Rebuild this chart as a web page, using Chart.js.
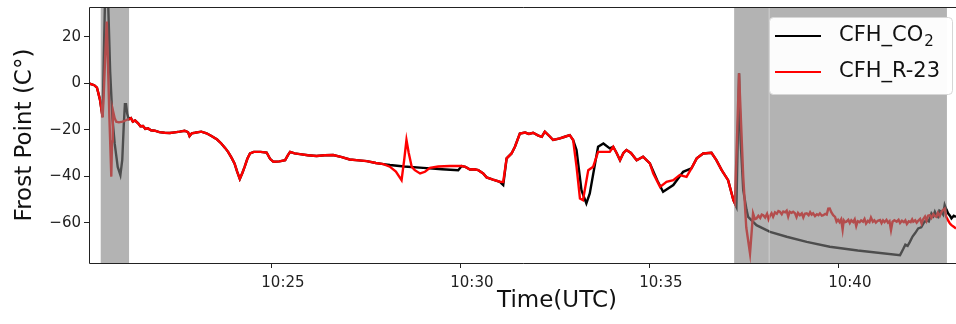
<!DOCTYPE html>
<html>
<head>
<meta charset="utf-8">
<script src="https://cdn.jsdelivr.net/npm/chart.js@4/dist/chart.umd.min.js"></script>
<style>
  body { margin: 0; background: #fff; }
  #frost { display: block; }
</style>
</head>
<body>
<canvas id="frost" width="956" height="324"></canvas>
<script>
// time in minutes after 10:00 UTC, frost point in °C
const co2Time = [
  20.16, 20.30, 20.37, 20.45, 20.52, 20.55, 20.58, 20.63, 20.67, 20.72, 20.78, 20.84, 20.92, 20.99,
  21.04, 21.08, 21.11, 21.14, 21.17, 21.21,
  21.27, 21.32, 21.38, 21.46, 21.52, 21.59, 21.65, 21.72, 21.80, 21.90, 22.02, 22.16, 22.30, 22.43,
  22.56, 22.69, 22.78, 22.82, 22.88, 22.96, 23.13, 23.27, 23.40, 23.55, 23.66, 23.76, 23.84, 23.93,
  24.01, 24.08, 24.15, 24.22, 24.28, 24.35, 24.42, 24.52, 24.70, 24.86, 24.95, 25.04, 25.20, 25.35,
  25.42, 25.48, 25.60, 25.74, 25.95, 26.18, 26.40, 26.62, 26.85, 27.06, 27.30, 27.51, 27.75, 27.95,
  28.12, 28.50, 29.00, 29.50, 29.93, 30.02,
  30.12, 30.24, 30.35, 30.46, 30.59, 30.68, 30.85, 31.03, 31.12, 31.21, 31.34, 31.43, 31.56, 31.70,
  31.80, 31.91, 32.05, 32.14, 32.22, 32.36, 32.44, 32.62, 32.75, 32.88, 32.97,
  33.06, 33.19, 33.32, 33.41, 33.55, 33.63, 33.77, 33.94,
  34.03, 34.12, 34.21, 34.30, 34.38, 34.50, 34.65, 34.82, 35.00,
  35.20, 35.35, 35.62, 35.88,
  36.10, 36.24, 36.41, 36.63, 36.76, 36.90, 37.07, 37.21,
  37.29, 37.36, 37.40, 37.47, 37.56, 37.60, 37.82, 38.18, 38.62, 39.15, 39.76, 40.50, 41.62,
  41.70, 41.76, 41.82, 41.88, 41.95, 42.02, 42.10, 42.18, 42.25, 42.32, 42.38, 42.45, 42.50, 42.54,
  42.58, 42.62, 42.66, 42.71, 42.76, 42.80, 42.85, 42.89, 42.94, 42.98, 43.04, 43.10
];
const co2Frost = [
  0, -0.8, -1.8, -7, -14.5, 10, 33, 45, 33, 5, -15, -26, -36, -39.5,
  -33, -18, -9, -9, -13, -15.5,
  -15.0, -16.5, -16.0, -17.2, -18.5, -18.4, -19.6, -19.4, -20.2, -20.4, -21.0, -21.3, -21.4, -21.1,
  -20.8, -20.4, -21.0, -22.7, -21.5, -21.3, -20.8, -21.5, -22.7, -24.2, -25.9, -27.8, -29.5, -32,
  -34.5, -38, -41.2, -38.5, -35.9, -32.5, -30.2, -29.5, -29.5, -29.8, -32.5, -33.8, -33.6, -33.1,
  -31, -29.5, -30.2, -30.5, -31.0, -31.3, -31.0, -30.9, -31.8, -32.8, -33.2, -33.5, -34.3, -34.8,
  -35.2, -35.8, -36.4, -37.0, -37.4, -35.6,
  -36, -37.1, -37.0, -37.4, -38.8, -40.5, -41.5, -42.4, -43.8, -32.3, -30.2, -27.3, -21.6, -21.2,
  -21.8, -21.3, -22.5, -23, -20.8, -23, -24.4, -23.7, -23, -22.3, -24.4,
  -28.7, -46, -51.7, -47.4, -34.5, -27.3, -25.9, -28,
  -27.3, -30, -33.1, -30, -28.7, -30, -33.1, -31.6, -34.5,
  -42, -46.7, -43.8, -38.1,
  -36.6, -32.3, -30.2, -29.9, -33.1, -37.4, -41.7, -50.3,
  -53.2, 4.3, -24.4, -46, -54.6, -57.5, -61.1, -64, -66.1, -68.3, -70.4, -72, -74,
  -71.5, -69.5, -70.0, -68.3, -66.0, -64.5, -62.5, -62.0, -60.0, -58.9, -59.5, -56.0, -57.2, -55.3,
  -56.8, -57.5, -54.8, -55.3, -56.5, -52.4, -54.5, -56, -57.0, -58.2, -57.0, -57.5
];

const r23Time = [
  20.16, 20.30, 20.37, 20.45, 20.52, 20.55, 20.59, 20.63, 20.66, 20.70, 20.75, 20.77, 20.79, 20.84,
  20.88, 20.95, 21.05, 21.12, 21.18, 21.22,
  21.27, 21.32, 21.38, 21.46, 21.52, 21.59, 21.65, 21.72, 21.80, 21.90, 22.02, 22.16, 22.30, 22.43,
  22.56, 22.69, 22.78, 22.82, 22.88, 22.96, 23.13, 23.27, 23.40, 23.55, 23.66, 23.76, 23.84, 23.93,
  24.01, 24.08, 24.15, 24.22, 24.28, 24.35, 24.42, 24.52, 24.70, 24.86, 24.95, 25.04, 25.20, 25.35,
  25.42, 25.48, 25.60, 25.74, 25.95, 26.18, 26.40, 26.62, 26.85, 27.06, 27.30, 27.51, 27.75, 27.95,
  28.12, 28.28, 28.43, 28.50, 28.56, 28.62, 28.70, 28.78, 28.92, 29.05, 29.18, 29.40, 29.71, 30.02,
  30.12, 30.24, 30.35, 30.46, 30.59, 30.68, 30.85, 31.03, 31.12, 31.21, 31.34, 31.43, 31.56, 31.70,
  31.80, 31.91, 32.05, 32.14, 32.22, 32.36, 32.44, 32.62, 32.75, 32.88, 32.97,
  33.06, 33.15, 33.23, 33.32, 33.37, 33.50, 33.63, 33.94,
  34.03, 34.12, 34.21, 34.30, 34.38, 34.50, 34.65, 34.82, 35.00,
  35.09, 35.27, 35.44, 35.62, 35.79, 35.97,
  36.10, 36.24, 36.41, 36.63, 36.76, 36.90, 37.07, 37.21,
  37.25, 37.36, 37.47, 37.55, 37.65,
  37.73, 37.78, 37.82, 37.87, 37.92, 37.96, 38.00, 38.05, 38.10, 38.14, 38.18, 38.22, 38.26, 38.31,
  38.36, 38.40, 38.44, 38.49, 38.53, 38.58, 38.62, 38.66, 38.70, 38.75, 38.79, 38.84, 38.88, 38.92,
  38.97, 39.02, 39.06, 39.10, 39.15, 39.20, 39.24, 39.28, 39.32, 39.37, 39.42, 39.46, 39.50, 39.55,
  39.59, 39.64, 39.68, 39.72, 39.76, 39.80, 39.85, 39.90, 39.94, 39.98, 40.02, 40.06, 40.10, 40.13,
  40.17, 40.20, 40.25, 40.29, 40.33, 40.38, 40.42, 40.46, 40.50, 40.55, 40.59, 40.64, 40.68, 40.72,
  40.77, 40.81, 40.85, 40.90, 40.94, 40.98, 41.03, 41.09, 41.13, 41.17, 41.21, 41.26, 41.30, 41.34,
  41.38, 41.42, 41.47, 41.53, 41.58, 41.62, 41.67, 41.72, 41.76, 41.80, 41.85, 41.90, 41.94, 41.97,
  42.02, 42.06, 42.10, 42.15, 42.19, 42.23, 42.28, 42.32, 42.36, 42.41, 42.45, 42.50, 42.54, 42.58,
  42.62, 42.67, 42.71, 42.75, 42.80, 42.84, 42.89, 42.94, 42.98, 43.04, 43.10
];
const r23Frost = [
  0, -0.8, -1.8, -7, -14.7, -5, 12, 26.6, 10, -15, -40.2, -25, -11.5, -15,
  -16.5, -16.8, -16.5, -16, -15.5, -15.5,
  -15.0, -16.5, -16.0, -17.2, -18.5, -18.4, -19.6, -19.4, -20.2, -20.4, -21.0, -21.3, -21.4, -21.1,
  -20.8, -20.4, -21.0, -22.7, -21.5, -21.3, -20.8, -21.5, -22.7, -24.2, -25.9, -27.8, -29.5, -32,
  -34.5, -38, -41.2, -38.5, -35.9, -32.5, -30.2, -29.5, -29.5, -29.8, -32.5, -33.8, -33.6, -33.1,
  -31, -29.5, -30.2, -30.5, -31.0, -31.3, -31.0, -30.9, -31.8, -32.8, -33.2, -33.5, -34.3, -34.8,
  -35.9, -38, -41.7, -33, -24.4, -30, -36, -37.4, -38.8, -38.1, -36.4, -35.8, -35.6, -35.6,
  -36, -37.1, -37.0, -37.4, -38.8, -40.5, -41.5, -42.4, -42.5, -32.3, -30.2, -27.3, -21.6, -21.2,
  -21.8, -21.3, -22.5, -23, -20.8, -23, -24.4, -23.7, -23, -22.3, -24.4,
  -35.9, -49.6, -50.3, -42, -37.4, -35.9, -29.5, -29.5,
  -27.3, -30, -33.1, -30, -28.7, -30, -33.1, -31.6, -34.5,
  -38.8, -44.6, -42.4, -41.7, -39.5, -40.3,
  -36.6, -32.3, -30.2, -29.9, -33.1, -37.4, -41.7, -50.3,
  -51.7, 4.3, -40, -62, -73.3,
  -56, -58.5, -58.2, -57.0, -58.0, -56.5, -56.8, -57.8, -56.2, -58.6, -57.0, -56.0, -57.5, -55.6,
  -56.2, -55.0, -55.3, -56.4, -55.2, -55.6, -54.9, -57.4, -55.3, -55.8, -55.3, -56.0, -57.6, -55.8,
  -56.8, -56.0, -57.8, -56.2, -56.0, -56.8, -55.5, -56.6, -56.0, -57.2, -56.4, -56.8, -56.0, -57.0,
  -56.8, -56.2, -56.5, -54.0, -53.9, -55.5, -56.8, -57.5, -59.6, -58.8, -59.8, -58.6, -63.0, -59.0,
  -59.8, -59.6, -58.8, -60.2, -59.0, -59.8, -58.6, -61.5, -59.4, -59.8, -59.0, -59.6, -58.4, -60.4,
  -59.2, -59.8, -57.8, -59.6, -59.0, -60.0, -59.2, -58.9, -60.2, -59.0, -59.8, -58.8, -60.0, -59.4,
  -63.2, -59.6, -59.0, -59.6, -58.8, -60.2, -59.2, -59.8, -59.0, -60.6, -59.4, -59.8, -58.6, -59.6,
  -59.0, -60.0, -59.2, -58.4, -60.4, -58.6, -57.4, -59.2, -57.0, -56.8, -58.0, -56.4, -57.2, -57.5,
  -55.8, -57.2, -55.6, -54.6, -54.0, -57.5, -59.0, -60.4, -61.1, -61.8, -62.5
];

// shaded periods (minutes after 10:00)
const spanStart = [20.47, 37.23, 38.14];
const spanEnd = [21.22, 38.14, 42.86];

const xTicks = [25, 30, 35, 40];
const yTicks = [-60, -40, -20, 0, 20];
// [text, subscript] for each legend entry
const seriesNames = [["CFH_CO", "2"], ["CFH_R-23", ""]];
const xTitle = "Time(UTC)";
const yTitle = "Frost Point (C°)";

function toPoints(t, v) {
  return t.map((x, i) => ({ x: x, y: v[i] }));
}

const spanPlugin = {
  id: "spans",
  afterDatasetsDraw(chart) {
    const { ctx, chartArea, scales } = chart;
    const xs = scales.x;
    ctx.save();
    ctx.fillStyle = "rgba(128,128,128,0.6)";
    for (let i = 0; i < spanStart.length; i++) {
      const x0 = xs.getPixelForValue(spanStart[i]);
      const x1 = Math.min(xs.getPixelForValue(spanEnd[i]), chartArea.right);
      ctx.fillRect(x0, chartArea.top, x1 - x0, chartArea.bottom - chartArea.top);
    }
    // faint seam between the two adjacent right-hand spans
    const seam = Math.round(xs.getPixelForValue(spanStart[2])) + 0.5;
    ctx.strokeStyle = "rgba(255,255,255,0.25)";
    ctx.lineWidth = 1;
    ctx.beginPath();
    ctx.moveTo(seam, chartArea.top);
    ctx.lineTo(seam, chartArea.bottom);
    ctx.stroke();

    // axes frame (top, left, bottom)
    ctx.strokeStyle = "#222";
    ctx.beginPath();
    ctx.moveTo(chartArea.right + 5, chartArea.top + 0.5);
    ctx.lineTo(chartArea.left + 0.5, chartArea.top + 0.5);
    ctx.lineTo(chartArea.left + 0.5, chartArea.bottom + 0.5);
    ctx.lineTo(chartArea.right + 5, chartArea.bottom + 0.5);
    ctx.stroke();
    ctx.restore();
  },
  afterDraw(chart) {
    const { ctx, chartArea } = chart;
    ctx.save();

    // x title sits under the middle of the full (cropped) axes
    ctx.font = "23px 'DejaVu Sans'";
    ctx.fillStyle = "#111";
    ctx.textAlign = "center";
    ctx.textBaseline = "middle";
    ctx.fillText(xTitle, chartArea.left + 468, chartArea.bottom + 38);

    // legend box in the top right corner of the plot
    const w = 183, h = 77;
    const bx = chartArea.right - 187, by = chartArea.top + 10;
    ctx.beginPath();
    ctx.roundRect(bx + 0.5, by + 0.5, w, h, 4);
    ctx.fillStyle = "rgba(255,255,255,0.96)";
    ctx.fill();
    ctx.strokeStyle = "#d6d6d6";
    ctx.lineWidth = 1;
    ctx.stroke();
    ctx.textAlign = "left";
    chart.data.datasets.forEach((ds, i) => {
      const ly = by + 19 + i * 36;
      ctx.strokeStyle = ds.borderColor;
      ctx.lineWidth = 2;
      ctx.beginPath();
      ctx.moveTo(bx + 6, ly);
      ctx.lineTo(bx + 52, ly);
      ctx.stroke();
      const [main, sub] = seriesNames[i];
      ctx.fillStyle = "#111";
      ctx.font = "21px 'DejaVu Sans'";
      ctx.fillText(main, bx + 70, ly);
      if (sub) {
        const mw = ctx.measureText(main).width;
        ctx.font = "15px 'DejaVu Sans'";
        ctx.fillText(sub, bx + 71 + mw, ly + 6);
      }
    });
    ctx.restore();
  }
};

new Chart(document.getElementById("frost"), {
  type: "line",
  data: {
    datasets: [
      {
        label: seriesNames[0].join(""),
        data: toPoints(co2Time, co2Frost),
        borderColor: "#000000",
        borderWidth: 2.4,
        pointRadius: 0,
        tension: 0,
        order: 2,
      },
      {
        label: seriesNames[1].join(""),
        data: toPoints(r23Time, r23Frost),
        borderColor: "#ff0000",
        borderWidth: 2.4,
        pointRadius: 0,
        tension: 0,
        order: 1,
      },
    ],
  },
  options: {
    responsive: false,
    animation: false,
    events: [],
    layout: { padding: { top: 7, right: 0, bottom: 0, left: 0 } },
    plugins: {
      legend: { display: false },
      tooltip: { enabled: false },
    },
    scales: {
      x: {
        type: "linear",
        min: 20.16,
        max: 43.1,
        afterBuildTicks: (scale) => {
          scale.ticks = xTicks.map((v) => ({ value: v }));
        },
        afterFit: (scale) => {
          scale.height = 61;
          scale.paddingLeft = 0;
          scale.paddingRight = 0;
        },
        grid: { drawOnChartArea: false, tickLength: 5, tickColor: "#222" },
        border: { display: false },
        ticks: {
          padding: 6,
          maxRotation: 0,
          labelOffset: 11,
          color: "#222",
          font: { family: "DejaVu Sans", size: 15 },
          callback: (v) => "10:" + v,
        },
      },
      y: {
        min: -77.4,
        max: 32.9,
        afterBuildTicks: (scale) => {
          scale.ticks = yTicks.map((v) => ({ value: v }));
        },
        afterFit: (scale) => {
          scale.width = 89;
          scale.paddingTop = 0;
          scale.paddingBottom = 0;
        },
        grid: { drawOnChartArea: false, tickLength: 5, tickColor: "#222" },
        border: { display: false },
        ticks: {
          padding: 3,
          color: "#222",
          font: { family: "DejaVu Sans", size: 15 },
          callback: (v) => (v < 0 ? "\u2212" + Math.abs(v) : String(v)),
        },
        title: {
          display: true,
          text: yTitle,
          color: "#111",
          font: { family: "DejaVu Sans", size: 23 },
          padding: { top: 11, bottom: 0 },
        },
      },
    },
  },
  plugins: [spanPlugin],
});
</script>
</body>
</html>
